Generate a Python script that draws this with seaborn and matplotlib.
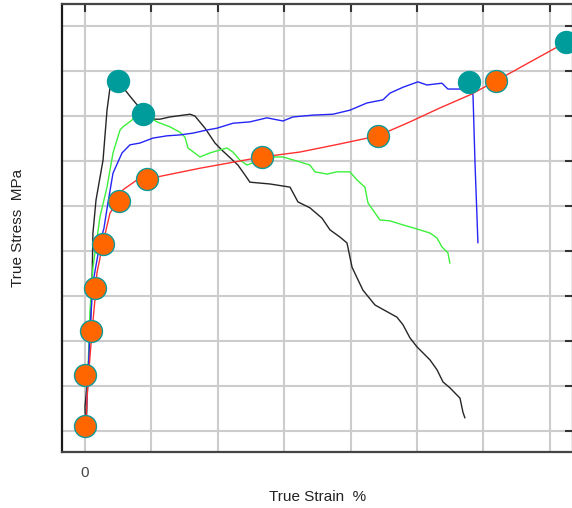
import numpy as np
import pandas as pd
import matplotlib
matplotlib.use("Agg")
import matplotlib.pyplot as plt
import seaborn as sns

# curves (strain %, stress MPa)
black_x = [0.08, 0.0, 0.23, 0.38, 0.53, 0.60, 0.83, 1.36, 1.66, 1.88, 2.48, 3.39, 4.37, 5.05, 5.65, 6.40,
           7.91, 8.28, 9.04, 9.79, 10.32, 11.52, 12.05, 12.42, 13.93, 15.44, 16.04, 16.94, 17.85, 18.45,
           19.20, 19.73, 20.11, 20.93, 21.84, 23.49, 23.95, 24.47, 25.00, 25.98, 26.51, 26.96, 27.48,
           28.24, 28.46, 28.61]
black_y = [0, 53, 129, 218, 329, 440, 513, 602, 713, 762, 778, 744, 709, 693, 693, 698,
           704, 700, 673, 640, 624, 591, 569, 553, 549, 542, 509, 496, 473, 447,
           431, 418, 364, 313, 280, 253, 236, 207, 187, 158, 136, 109, 96,
           73, 42, 29]

green_x = [0.08, 0.23, 0.38, 0.60, 1.13, 1.66, 2.11, 2.64, 2.86, 3.54, 3.92, 4.37, 5.42, 6.40, 7.15,
           7.53, 7.76, 8.66, 9.41, 10.69, 11.14, 11.67, 12.20, 12.80, 13.93, 14.91, 16.19, 16.94,
           17.32, 18.22, 18.98, 19.95, 20.48, 21.08, 21.31, 22.21, 22.97, 23.95, 25.00, 25.98,
           26.51, 26.88, 27.33, 27.48]
green_y = [0, 136, 269, 364, 476, 542, 618, 669, 676, 691, 704, 706, 687, 676, 664,
           653, 629, 609, 618, 629, 620, 602, 591, 598, 609, 609, 598, 591,
           576, 571, 576, 576, 558, 542, 507, 469, 467, 458, 449, 440,
           429, 409, 396, 373]

blue_x = [0.08, 0.15, 0.38, 0.60, 1.13, 1.43, 1.73, 2.11, 2.79, 3.39, 4.14, 5.12, 6.17, 7.15, 8.13,
          9.19, 9.94, 11.14, 12.42, 13.70, 14.91, 15.66, 17.17, 18.67, 19.95, 21.23, 22.44, 22.97,
          23.95, 25.07, 25.75, 26.88, 27.33, 28.24, 28.99, 29.22, 29.37, 29.52, 29.59]
blue_y = [0, 69, 224, 329, 418, 451, 507, 573, 618, 636, 640, 651, 656, 658, 662,
          669, 673, 684, 687, 696, 689, 698, 702, 704, 713, 729, 736, 751,
          764, 776, 769, 773, 760, 760, 758, 747, 596, 476, 418]

red_x = [0.08, 0.15, 0.30, 0.53, 0.75, 0.90, 1.36, 1.88, 2.56, 2.86, 3.92, 4.67, 8.66, 13.33,
         16.19, 19.20, 22.06, 24.47, 26.73, 28.99, 30.95, 33.51, 36.22]
red_y = [0, 69, 136, 222, 291, 351, 418, 484, 516, 536, 558, 560, 584, 609,
         620, 638, 656, 687, 718, 747, 778, 820, 864]

teal_x = [2.48, 4.37, 28.91, 36.22]
teal_y = [778, 704, 776, 864]

orange_x = [0.0, 0.0, 0.45, 0.75, 1.36, 2.56, 4.67, 13.33, 22.06, 30.95]
orange_y = [11, 124, 222, 318, 416, 511, 560, 609, 656, 778]

sns.set_style("white")
plt.rcParams['font.family'] = ['Liberation Sans', 'DejaVu Sans']

fig = plt.figure(figsize=(5.72, 5.08), dpi=100)
ax = fig.add_axes([62 / 572, 56 / 508, 511 / 572, 448 / 508])

curves = [(black_x, black_y, "#262626"), (green_x, green_y, "#3cf03c"),
          (blue_x, blue_y, "#2525f5"), (red_x, red_y, "#ff3030")]
for xs, ys, col in curves:
    df = pd.DataFrame({"strain": xs, "stress": ys})
    sns.lineplot(data=df, x="strain", y="stress", sort=False, estimator=None,
                 color=col, linewidth=1.0, ax=ax)

sns.scatterplot(x=teal_x, y=teal_y, s=250, color="#009b9b", edgecolor="#009b9b",
                linewidth=1, zorder=5, ax=ax)
sns.scatterplot(x=orange_x, y=orange_y, s=250, color="#ff6600", edgecolor="#109a9a",
                linewidth=1, zorder=5, ax=ax)

ax.set_xlim(-1.73, 36.75)
ax.set_ylim(-46.7, 949)
ax.set_xticks(np.arange(0, 40, 5))
ax.set_xticklabels(["0"] + [""] * 7)
ax.set_yticks(np.arange(0, 1000, 100))
ax.set_yticklabels([])
ax.tick_params(direction="in", length=6, width=1.5, color="#333333",
               top=True, right=True, labelsize=11, labelcolor="#444444", pad=10)
ax.grid(True, color="#cccccc", linewidth=1.5)
ax.set_axisbelow(True)
for side, sp in ax.spines.items():
    sp.set_visible(True)
    sp.set_linewidth(1.6)
    sp.set_color("#1a1a1a" if side == "left" else "#444444")

ax.set_xlabel("True Strain  %", fontsize=11, color="#222222")
ax.set_ylabel("True Stress  MPa", fontsize=11, color="#222222")
ax.xaxis.set_label_coords(0.5, -0.085)
ax.yaxis.set_label_coords(-0.072, 0.5)

fig.savefig("out.png", dpi=100)
